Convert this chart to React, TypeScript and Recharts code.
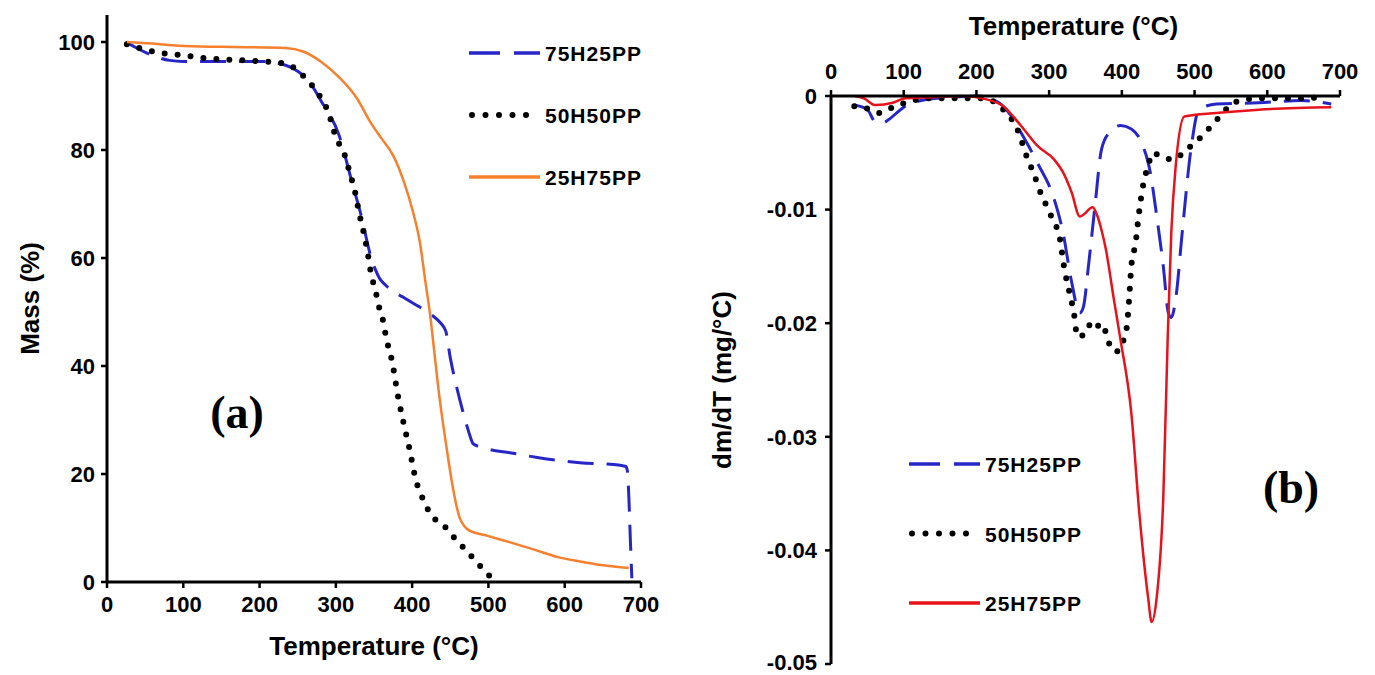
import React from 'react';
import { LineChart, Line, XAxis, YAxis, Legend, Label } from 'recharts';

// ---- (a) TGA: mass (%) vs temperature ----
const tga75Temp = [25, 40, 60, 82, 100, 150, 200, 234, 250, 263, 281, 304, 322, 334, 345, 352, 357, 365, 374, 390, 404, 416, 427, 437, 444, 450, 456, 462, 471, 476, 480, 490, 497, 530, 562, 620, 673, 680, 682, 684, 686, 688];
const tga75Mass = [100, 98.8, 97.5, 96.6, 96.4, 96.4, 96.4, 95.7, 94.6, 93, 89, 82.8, 73.6, 67.4, 60.7, 57.8, 56.3, 55, 53.9, 52.6, 51.4, 50.4, 49.3, 48, 46.5, 41.5, 37.5, 34, 29.3, 27, 25.6, 25, 24.7, 23.9, 23.1, 22.1, 21.6, 21.4, 20.7, 16, 8, 0.7];

const tga50Temp = [26, 40, 62, 80, 97, 129, 180, 234, 249, 262, 275, 290, 301, 310, 319, 325, 331, 336, 342, 345, 353, 357, 362, 365, 368, 373, 382, 389, 397, 404, 416, 427, 439, 450, 462, 474, 486, 497, 509];
const tga50Mass = [99.6, 99, 98.2, 97.8, 97.6, 97, 96.6, 96, 94.8, 93, 90.8, 87, 82, 79.7, 75.4, 72.3, 68, 65, 60.7, 58, 53.3, 50.7, 48.3, 46, 44, 41.3, 34, 29.3, 24.3, 19.4, 14.8, 12, 10.9, 9, 7.2, 5.3, 3.5, 1.7, 0.4];

const tga25Temp = [26, 60, 94, 150, 234, 258, 281, 304, 328, 345, 360, 375, 389, 401, 410, 418, 424, 426, 436, 445, 454, 462, 468, 474, 500, 532, 560, 591, 620, 650, 684];
const tga25Mass = [100, 99.7, 99.3, 99.1, 98.9, 98.2, 96.3, 93.5, 89.5, 85.2, 82.1, 79, 74.2, 68.6, 63, 55, 49, 46.5, 34, 25, 17, 12, 10.4, 9.6, 8.5, 7.2, 6, 4.6, 3.8, 3.1, 2.6];

// ---- (b) DTG: dm/dT vs temperature ----
const dtg75Temp = [32, 50, 61, 70, 79, 90, 102, 132, 170, 202, 231, 246, 261, 284, 307, 319, 331, 342, 347, 354, 363, 372, 383, 398, 413, 427, 439, 448, 457, 464, 468, 474, 483, 495, 506, 530, 588, 647, 688];
const dtg75Rate = [-0.0008, -0.0012, -0.0023, -0.0024, -0.0021, -0.0015, -0.0009, -0.0003, -0.0001, 0, -0.0006, -0.0016, -0.0032, -0.0059, -0.0091, -0.012, -0.0164, -0.0191, -0.0186, -0.015, -0.0097, -0.0047, -0.0032, -0.0026, -0.0029, -0.0041, -0.0067, -0.0106, -0.015, -0.0191, -0.0195, -0.0179, -0.012, -0.0047, -0.0012, -0.0007, -0.0006, -0.0004, -0.0007];

const dtg50Temp = [32, 50, 67, 85, 102, 120, 138, 179, 208, 237, 258, 269, 278, 290, 299, 307, 313, 322, 328, 334, 339, 345, 351, 358, 365, 372, 379, 385, 391, 396, 403, 407, 410, 413, 419, 423, 430, 436, 442, 450, 457, 471, 489, 501, 515, 539, 553, 588, 647, 676];
const dtg50Rate = [-0.0009, -0.0011, -0.0015, -0.001, -0.0006, -0.0003, -0.0002, -0.0002, -0.0002, -0.0012, -0.0032, -0.0053, -0.0067, -0.0088, -0.01, -0.0112, -0.012, -0.0156, -0.0173, -0.0191, -0.0212, -0.0211, -0.0209, -0.0199, -0.0203, -0.02, -0.021, -0.0222, -0.0225, -0.0224, -0.0213, -0.0202, -0.0179, -0.015, -0.0129, -0.0106, -0.0076, -0.0062, -0.005, -0.0052, -0.0054, -0.0056, -0.0047, -0.0041, -0.0032, -0.0015, -0.0006, -0.0002, -0.0002, -0.0001];

const dtg25Temp = [32, 45, 61, 85, 102, 140, 179, 214, 237, 261, 284, 307, 319, 331, 342, 350, 356, 360, 366, 372, 378, 389, 398, 413, 424, 436, 441, 448, 457, 463, 468, 474, 486, 530, 588, 688];
const dtg25Rate = [0, -0.0002, -0.0008, -0.0006, -0.0002, -0.0001, 0, -0.0003, -0.0009, -0.0026, -0.0044, -0.0056, -0.0067, -0.0085, -0.0106, -0.0103, -0.0099, -0.0098, -0.0105, -0.0118, -0.0135, -0.0179, -0.0214, -0.0279, -0.0367, -0.0441, -0.0463, -0.0441, -0.0353, -0.0214, -0.012, -0.0062, -0.0018, -0.0015, -0.0012, -0.001];

const seriesOrder = ['75H25PP', '50H50PP', '25H75PP'];
const tempTicks = [0, 100, 200, 300, 400, 500, 600, 700];
const massTicks = [0, 20, 40, 60, 80, 100];
const rateTicks = [0, -0.01, -0.02, -0.03, -0.04, -0.05];

const zip = (t: number[], v: number[]) => t.map((x, i) => ({ t: x, v: v[i] }));

const FONT = "'Liberation Sans', Arial, sans-serif";
const BLUE = '#2626c8';
const ORANGE = '#f7802f';
const RED = '#e8121b';

const tickStyle = { fontSize: 22, fontWeight: 700, fill: '#000', fontFamily: FONT };
const axisLine = { stroke: '#000', strokeWidth: 3 };
const tickLine = { stroke: '#000', strokeWidth: 2.5 };
const titleStyle = { fontSize: 26, fontWeight: 700, fill: '#000', fontFamily: FONT };

const seriesStyle: Record<string, { dotted?: boolean; legendDash?: string; legendWidth: number }> = {
  '75H25PP': { legendDash: '31 14', legendWidth: 3.5 },
  '50H50PP': { dotted: true, legendDash: '0 13.5', legendWidth: 6 },
  '25H75PP': { legendWidth: 3.5 },
};

const makeLegend = (rowGap: number) => (props: any) => {
  const items = [...(props.payload || [])].sort(
    (a: any, b: any) => seriesOrder.indexOf(a.value) - seriesOrder.indexOf(b.value)
  );
  return (
    <svg width={200} height={40 + rowGap * items.length}>
      {items.map((it: any, i: number) => {
        const s = seriesStyle[it.value];
        const y = 20 + i * rowGap;
        return (
          <g key={it.value}>
            <line
              x1={s.dotted ? 4 : 1}
              x2={s.dotted ? 59 : 72}
              y1={y}
              y2={y}
              stroke={it.color}
              strokeWidth={s.legendWidth}
              strokeDasharray={s.legendDash}
              strokeLinecap={s.dotted ? 'round' : 'butt'}
            />
            <text x={77} y={y + 8} fontSize={21} fontWeight={700} fontFamily={FONT} fill="#000" letterSpacing={1}>
              {it.value}
            </text>
          </g>
        );
      })}
    </svg>
  );
};

const TgaChart = () => (
  <LineChart width={700} height={675} margin={{ top: 15, right: 59, bottom: 35, left: 0 }}>
    <XAxis
      type="number"
      dataKey="t"
      domain={[0, 700]}
      ticks={tempTicks}
      height={58}
      tick={tickStyle}
      tickMargin={8}
      tickSize={6}
      axisLine={axisLine}
      tickLine={tickLine}
      allowDuplicatedCategory={false}
    >
      <Label value="Temperature (°C)" position="bottom" offset={-3} style={titleStyle} />
    </XAxis>
    <YAxis
      type="number"
      domain={[0, 105]}
      ticks={massTicks}
      width={107}
      tick={tickStyle}
      tickMargin={6}
      tickSize={6}
      axisLine={axisLine}
      tickLine={tickLine}
    >
      <Label value="Mass (%)" angle={-90} position="insideLeft" offset={30} style={{ ...titleStyle, textAnchor: 'middle' }} />
    </YAxis>
    <Legend
      layout="vertical"
      align="center"
      verticalAlign="middle"
      content={makeLegend(62)}
      wrapperStyle={{ left: 468, top: 33, width: 200 }}
    />
    <Line data={zip(tga75Temp, tga75Mass)} dataKey="v" name="75H25PP" type="monotone" stroke={BLUE} strokeWidth={3} strokeDasharray="26 13" dot={false} activeDot={false} isAnimationActive={false} />
    <Line data={zip(tga50Temp, tga50Mass)} dataKey="v" name="50H50PP" type="monotone" stroke="#000" strokeWidth={6} strokeDasharray="0 13" strokeLinecap="round" dot={false} activeDot={false} isAnimationActive={false} />
    <Line data={zip(tga25Temp, tga25Mass)} dataKey="v" name="25H75PP" type="monotone" stroke={ORANGE} strokeWidth={2.5} dot={false} activeDot={false} isAnimationActive={false} />
  </LineChart>
);

const DtgChart = () => (
  <LineChart width={675} height={675} margin={{ top: 46, right: 35, bottom: 11, left: 0 }}>
    <XAxis
      type="number"
      dataKey="t"
      orientation="top"
      domain={[0, 700]}
      ticks={tempTicks}
      height={50}
      tick={tickStyle}
      tickMargin={11}
      tickSize={6}
      axisLine={axisLine}
      tickLine={tickLine}
      allowDuplicatedCategory={false}
    >
      <Label value="Temperature (°C)" position="top" offset={11} dx={-12} style={titleStyle} />
    </XAxis>
    <YAxis
      type="number"
      domain={[-0.05, 0]}
      ticks={rateTicks}
      width={131}
      tick={tickStyle}
      tickMargin={8}
      tickSize={6}
      tickFormatter={(v: number) => (v === 0 ? '0' : v.toFixed(2))}
      axisLine={axisLine}
      tickLine={tickLine}
    >
      <Label value="dm/dT (mg/°C)" angle={-90} position="insideLeft" offset={22} style={{ ...titleStyle, textAnchor: 'middle' }} />
    </YAxis>
    <Legend
      layout="vertical"
      align="center"
      verticalAlign="middle"
      content={makeLegend(69.5)}
      wrapperStyle={{ left: 208, top: 444, width: 200 }}
    />
    <Line data={zip(dtg75Temp, dtg75Rate)} dataKey="v" name="75H25PP" type="monotone" stroke={BLUE} strokeWidth={3} strokeDasharray="26 13" dot={false} activeDot={false} isAnimationActive={false} />
    <Line data={zip(dtg50Temp, dtg50Rate)} dataKey="v" name="50H50PP" type="monotone" stroke="#000" strokeWidth={6} strokeDasharray="0 13" strokeLinecap="round" dot={false} activeDot={false} isAnimationActive={false} />
    <Line data={zip(dtg25Temp, dtg25Rate)} dataKey="v" name="25H75PP" type="monotone" stroke={RED} strokeWidth={2.5} dot={false} activeDot={false} isAnimationActive={false} />
  </LineChart>
);

const panelTag: React.CSSProperties = {
  position: 'absolute',
  fontFamily: "'Liberation Serif', 'Times New Roman', serif",
  fontWeight: 700,
  fontSize: 46,
  lineHeight: '46px',
  transform: 'translateX(-50%)',
  color: '#000',
};

export default function App() {
  return (
    <div style={{ position: 'absolute', left: 0, top: 0, width: 1375, height: 675, background: '#fff', overflow: 'hidden' }}>
      <div style={{ position: 'absolute', left: 0, top: 0 }}>
        <TgaChart />
      </div>
      <div style={{ position: 'absolute', left: 700, top: 0 }}>
        <DtgChart />
      </div>
      <div style={{ ...panelTag, left: 237, top: 390 }}>(a)</div>
      <div style={{ ...panelTag, left: 1291, top: 465 }}>(b)</div>
    </div>
  );
}
